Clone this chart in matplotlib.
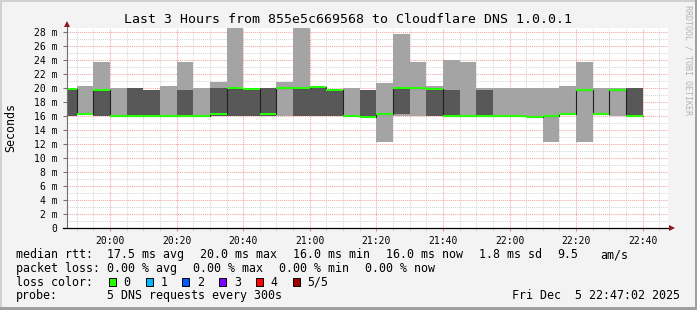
import matplotlib
matplotlib.use('Agg')
import matplotlib.pyplot as plt
import matplotlib.patches as mpatches
import numpy as np

W, H, DPI = 697, 310, 100

# ---- data (5-minute samples, start times) ----
times = ["19:45", "19:50", "19:55", "20:00", "20:05", "20:10", "20:15", "20:20",
         "20:25", "20:30", "20:35", "20:40", "20:45", "20:50", "20:55", "21:00",
         "21:05", "21:10", "21:15", "21:20", "21:25", "21:30", "21:35", "21:40",
         "21:45", "21:50", "21:55", "22:00", "22:05", "22:10", "22:15", "22:20",
         "22:25", "22:30", "22:35"]
# sorted ping values in ms (p1 lowest ... p5 highest), median = p3
ping1 = [16.0, 16.3, 16.0, 16.0, 16.0, 16.0, 16.0, 16.0, 16.0, 16.0, 16.0, 16.0,
         16.0, 16.0, 16.0, 16.0, 16.0, 16.0, 15.8, 12.3, 16.0, 16.0, 16.0, 16.0,
         16.0, 16.0, 16.0, 16.0, 15.9, 12.3, 16.3, 12.3, 16.3, 16.0, 16.0]
ping2 = [16.0, 16.3, 16.0, 16.0, 16.0, 16.0, 16.0, 16.0, 16.0, 16.0, 16.0, 16.0,
         16.0, 20.0, 16.0, 16.0, 16.0, 16.0, 15.8, 16.3, 16.3, 20.0, 16.0, 16.0,
         16.0, 16.0, 16.0, 16.0, 15.9, 16.0, 16.3, 19.7, 16.3, 19.7, 16.0]
median = [19.8, 16.3, 19.7, 16.0, 16.0, 16.0, 16.0, 16.0, 16.0, 16.3, 20.0, 19.8,
          16.3, 20.0, 20.0, 20.1, 19.7, 16.0, 15.9, 16.3, 20.0, 20.0, 19.8, 16.0,
          16.0, 16.0, 16.0, 16.0, 15.9, 16.0, 16.3, 19.7, 16.3, 19.7, 16.0]
ping4 = [20.0, 16.3, 19.7, 16.0, 20.0, 19.7, 16.0, 19.7, 16.0, 20.0, 20.0, 20.0,
         20.0, 20.0, 20.0, 20.1, 19.8, 16.0, 19.7, 16.3, 20.0, 20.0, 19.8, 19.7,
         16.0, 19.7, 16.0, 16.0, 15.9, 16.0, 16.3, 19.7, 16.3, 19.7, 20.0]
ping5 = [20.0, 20.3, 23.7, 20.0, 20.0, 19.7, 20.3, 23.7, 20.0, 20.9, 30.0, 20.0,
         20.0, 20.9, 30.0, 20.1, 19.8, 20.0, 19.7, 20.7, 27.7, 23.7, 20.3, 24.0,
         23.7, 20.0, 20.0, 20.0, 20.0, 20.0, 20.3, 23.7, 20.0, 20.0, 20.0]

ytick_vals = list(range(0, 29, 2))
ytick_labels = ["0"] + [f"{v} m" for v in ytick_vals[1:]]
xtick_labels = ["20:00", "20:20", "20:40", "21:00", "21:20", "21:40", "22:00", "22:20", "22:40"]

title = "Last 3 Hours from 855e5c669568 to Cloudflare DNS 1.0.0.1"
loss_labels = ["0", "1", "2", "3", "4", "5/5"]
loss_colors = ["#26ff00", "#00b8ff", "#0059ff", "#7e00ff", "#ff0000", "#a00000"]

# ---- helpers ----
def fx(x):
    return x / W

def fy(y):
    return 1 - y / H

def to_min(s):
    h, m = s.split(":")
    return int(h) * 60 + int(m) - 20 * 60

mono = "DejaVu Sans Mono"
plt.rcParams['font.family'] = [mono]

fig = plt.figure(figsize=(W / DPI, H / DPI), dpi=DPI, facecolor="#f3f3f3")

ax_l, ax_r, ax_t, ax_b = 67, 667.5, 27.5, 228
ax = fig.add_axes([fx(ax_l), fy(ax_b), (ax_r - ax_l) / W, (ax_b - ax_t) / H])
ax.set_facecolor("white")

mins = np.array([to_min(t) for t in times], dtype=float)
p1 = np.array(ping1); p2 = np.array(ping2); p4 = np.array(ping4); p5 = np.array(ping5)
med = np.array(median)

ax.bar(mins, p5 - p1, bottom=p1, width=5, align='edge', color="#a4a4a4", lw=0, zorder=2)
ax.bar(mins, p4 - p2, bottom=p2, width=5, align='edge', color="#585858", lw=0, zorder=3)
edges = np.append(mins, mins[-1] + 5)
ax.stairs(med, edges, baseline=None, color="#202020", lw=0.8, zorder=4)
ax.bar(mins, 0.3, bottom=med - 0.15, width=5, align='edge', color="#26ff00", lw=0, zorder=5)

ppm = (642.7 - 110) / 160.0
ax.set_xlim(-(110 - ax_l) / ppm, (ax_r - 110) / ppm)
ax.set_ylim(0, (ax_b - ax_t) / 7.0)

ax.set_xticks(np.arange(0, 161, 20))
ax.set_xticklabels(xtick_labels)
ax.set_xticks(np.arange(-10, 170, 5), minor=True)
ax.set_yticks(ytick_vals)
ax.set_yticklabels(ytick_labels)
ax.set_yticks(np.arange(0, 29, 1), minor=True)

ax.set_axisbelow(True)
ax.grid(which='minor', color="#d6d6d6", ls=(0, (1, 1)), lw=0.75)
ax.grid(which='major', color="#f5a3a3", ls=(0, (1, 1)), lw=0.75)

for s in ax.spines.values():
    s.set_visible(False)

ax.tick_params(axis='x', which='major', length=2.5, width=0.75, color="#f08080",
               pad=3.2, labelsize=7, labelcolor="black")
ax.tick_params(axis='x', which='minor', length=1.5, width=0.75, color="#c8c8c8")
ax.tick_params(axis='y', which='major', length=2.6, width=0.75, color="#707070",
               pad=4.3, labelsize=7, labelcolor="black")
ax.tick_params(axis='y', which='minor', length=0)

# axes lines with arrows
ax.plot([0, 0], [0, 1 + 3.5 / (ax_b - ax_t)], transform=ax.transAxes, color="#707070",
        lw=0.8, clip_on=False, zorder=6)
ax.plot([-4 / (ax_r - ax_l), 1 + 3 / (ax_r - ax_l)], [0, 0], transform=ax.transAxes,
        color="black", lw=0.9, clip_on=False, zorder=6)
ax.plot([0], [1 + 3.5 / (ax_b - ax_t)], marker='^', ms=4.5, color="#8b1a1a",
        transform=ax.transAxes, clip_on=False, zorder=7, mew=0)
ax.plot([1 + 4 / (ax_r - ax_l)], [0], marker='>', ms=4.5, color="#8b1a1a",
        transform=ax.transAxes, clip_on=False, zorder=7, mew=0)

# title & labels
fig.text(fx(347.5), fy(23.3), title, ha='center', va='baseline', fontsize=9.5,
         color="black")
fig.text(fx(11.2), fy(128), "Seconds", rotation=90, ha='center', va='center',
         fontsize=8.4, color="black")
fig.text(fx(688), fy(5), "RRDTOOL / TOBI OETIKER", rotation=270, ha='center', va='top',
         fontsize=6, color="#b4b4b4")

LS = 8.4
def t(x, y, s, ha='left'):
    fig.text(fx(x), fy(y), s, ha=ha, va='baseline', fontsize=LS, color="black")

# legend line 1
y1 = 258.3
t(16, y1, "median rtt:")
t(107.3, y1, "17.5 ms avg")
t(200, y1, "20.0 ms max")
t(293.3, y1, "16.0 ms min")
t(386, y1, "16.0 ms now")
t(479, y1, "1.8 ms sd")
t(557.7, y1, "9.5")
t(600, y1, "am/s")
# legend line 2
y2 = 271.9
t(16, y2, "packet loss:")
t(107.3, y2, "0.00 % avg")
t(193.3, y2, "0.00 % max")
t(279.3, y2, "0.00 % min")
t(365, y2, "0.00 % now")
# legend line 3
y3 = 285.6
t(16, y3, "loss color:")
box_x = [108.7, 145.6, 182.4, 219.2, 256.1, 293.0]
for bx, col, lab in zip(box_x, loss_colors, loss_labels):
    r = mpatches.Rectangle((fx(bx), fy(286.3)), 7 / W, 8 / H, transform=fig.transFigure,
                           facecolor=col, edgecolor="black", lw=0.7)
    fig.add_artist(r)
    t(bx + 14.6, y3, lab)
# legend line 4
y4 = 299.2
t(16, y4, "probe:")
t(107.3, y4, "5 DNS requests every 300s")
t(680.5, y4, "Fri Dec  5 22:47:02 2025", ha='right')

# frame border (3D look)
fig.add_artist(mpatches.Rectangle((0, fy(2)), 1, 2 / H, transform=fig.transFigure,
                                  facecolor="#d0d0d0", lw=0))
fig.add_artist(mpatches.Rectangle((0, 0), 2 / W, 1, transform=fig.transFigure,
                                  facecolor="#d0d0d0", lw=0))
fig.add_artist(mpatches.Rectangle((0, 0), 1, 3 / H, transform=fig.transFigure,
                                  facecolor="#9f9f9f", lw=0))
fig.add_artist(mpatches.Rectangle((fx(694.5), 0), 2.5 / W, 1, transform=fig.transFigure,
                                  facecolor="#9f9f9f", lw=0))

fig.savefig("out.png", dpi=DPI, facecolor=fig.get_facecolor())
